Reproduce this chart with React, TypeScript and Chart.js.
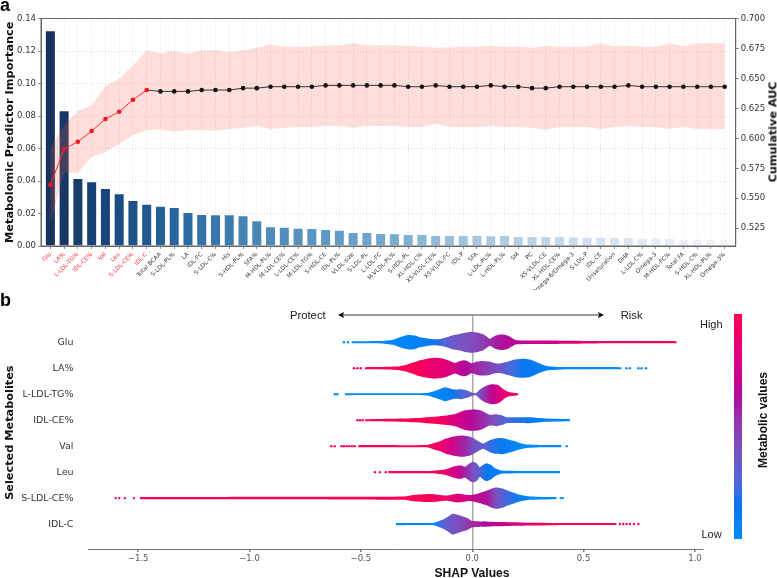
import React, { useEffect, useRef } from "react";
import { Chart, registerables } from "chart.js";

Chart.register(...registerables);

const FONT = "'DejaVu Sans', sans-serif";
const SANS = "'Liberation Sans', Arial, sans-serif";

// ---------- panel a ----------
const metabolites = [
  "Glu", "LA%", "L-LDL-TG%", "IDL-CE%", "Val", "Leu", "S-LDL-CE%", "IDL-C", "Total BCAA", "S-LDL-PL%",
  "LA", "IDL-FC", "S-LDL-C%", "His", "S-HDL-PL%", "SFA%", "M-HDL-PL%", "M-LDL-CE%", "L-LDL-CE%", "M-LDL-TG%",
  "S-HDL-CE", "IDL-PL%", "VLDL-size", "S-LDL-PL", "L-LDL-FC", "M-VLDL-PL%", "S-HDL-PL", "XL-HDL-C%", "XS-VLDL-CE%", "XS-VLDL-FC",
  "IDL-P", "SFA", "L-LDL-PL%", "L-HDL-PL%", "SM", "PC", "XS-VLDL-CE", "XL-HDL-CE%", "Omega-6/Omega-3", "S-LDL-P",
  "IDL-CE", "Unsaturation", "DHA", "L-LDL-C%", "Omega-3", "M-HDL-FC%", "Total FA", "S-HDL-C%", "XL-HDL-PL%", "Omega-3%",
];
const importance = [
  0.1328, 0.0836, 0.0418, 0.0398, 0.0357, 0.0324, 0.0283, 0.026, 0.0248, 0.024,
  0.0209, 0.0197, 0.0195, 0.0195, 0.0189, 0.0158, 0.0121, 0.0119, 0.0113, 0.0111,
  0.0105, 0.01, 0.0086, 0.0086, 0.008, 0.0078, 0.0074, 0.0074, 0.0068, 0.0068,
  0.0068, 0.0068, 0.0066, 0.0068, 0.0062, 0.0062, 0.0062, 0.0062, 0.0059, 0.0057,
  0.0057, 0.0055, 0.0055, 0.0051, 0.0051, 0.0049, 0.0045, 0.0045, 0.0043, 0.0041,
];
const aucMean = [
  0.5611, 0.5911, 0.5972, 0.6061, 0.6161, 0.6222, 0.6322, 0.6403, 0.6392, 0.6392,
  0.6392, 0.6403, 0.6403, 0.6403, 0.6419, 0.6419, 0.6431, 0.6431, 0.6431, 0.6431,
  0.6442, 0.6442, 0.6442, 0.6442, 0.6442, 0.6442, 0.6431, 0.6431, 0.6442, 0.6431,
  0.6431, 0.6431, 0.6442, 0.6431, 0.6431, 0.6419, 0.6419, 0.6431, 0.6431, 0.6431,
  0.6431, 0.6431, 0.6442, 0.6431, 0.6431, 0.6431, 0.6431, 0.6431, 0.6431, 0.6431,
];
const aucUpper = [
  0.5917, 0.6111, 0.6228, 0.6275, 0.6436, 0.6497, 0.6611, 0.6733, 0.6708, 0.6728,
  0.6708, 0.6733, 0.6736, 0.6719, 0.6736, 0.6756, 0.6786, 0.6764, 0.6764, 0.6767,
  0.6775, 0.6775, 0.6794, 0.6775, 0.6775, 0.6775, 0.677, 0.6764, 0.6756, 0.6761,
  0.6764, 0.6764, 0.6772, 0.6764, 0.6764, 0.6756, 0.6772, 0.6764, 0.6764, 0.6764,
  0.6794, 0.6767, 0.6772, 0.6764, 0.6764, 0.6794, 0.6767, 0.6794, 0.6794, 0.6794,
];
const aucLower = [
  0.5292, 0.5714, 0.5714, 0.5847, 0.5886, 0.5953, 0.6028, 0.6067, 0.6075, 0.6056,
  0.6069, 0.6067, 0.6064, 0.6078, 0.6089, 0.6103, 0.6078, 0.6089, 0.6094, 0.6094,
  0.6103, 0.6103, 0.6089, 0.6103, 0.6103, 0.6103, 0.6094, 0.6094, 0.6122, 0.6094,
  0.6094, 0.6094, 0.6103, 0.6094, 0.6094, 0.6089, 0.6072, 0.6094, 0.6094, 0.6094,
  0.6078, 0.6094, 0.6103, 0.6094, 0.6094, 0.6078, 0.6094, 0.6078, 0.6078, 0.6078,
];
const selectedCount = 8;

const barRamp = ["#16325f", "#1a4a80", "#2b6aa2", "#4a86b5", "#5c97c4", "#74a9cf", "#9cc2dc", "#b7d0e5", "#d1dfef", "#e3ebf6", "#f1f5fb"];

// ---------- panel b ----------
const rowNames = ["Glu", "LA%", "L-LDL-TG%", "IDL-CE%", "Val", "Leu", "S-LDL-CE%", "IDL-C"];

const gluX = [-0.542, -0.415, -0.355, -0.322, -0.287, -0.257, -0.235, -0.175, -0.138, -0.115, -0.088, -0.063, -0.033, -0.003, 0.027, 0.049, 0.067, 0.079, 0.105, 0.132, 0.159, 0.177, 0.199, 0.334, 0.558, 0.918];
const gluHalf = [0.04, 0.045, 0.1, 0.205, 0.28, 0.256, 0.19, 0.115, 0.14, 0.19, 0.27, 0.31, 0.37, 0.4, 0.37, 0.31, 0.205, 0.13, 0.256, 0.295, 0.256, 0.167, 0.077, 0.064, 0.045, 0.04];
const gluToneX = [-0.542, -0.415, -0.355, -0.287, -0.235, -0.175, -0.115, -0.063, -0.003, 0.049, 0.079, 0.132, 0.177, 0.199, 0.334, 0.558, 0.918];
const gluTone = [0, 0, 0.02, 0.05, 0.08, 0.15, 0.3, 0.38, 0.42, 0.48, 0.55, 0.62, 0.66, 0.68, 0.76, 0.9, 1];
const gluOut = [-0.576, -0.558];

const laX = [-0.482, -0.34, -0.303, -0.265, -0.235, -0.202, -0.168, -0.13, -0.108, -0.078, -0.058, -0.04, -0.022, -0.003, 0.022, 0.049, 0.076, 0.102, 0.124, 0.147, 0.169, 0.199, 0.229, 0.259, 0.289, 0.319, 0.341, 0.409, 0.671];
const laHalf = [0.04, 0.064, 0.115, 0.218, 0.31, 0.37, 0.4, 0.37, 0.31, 0.205, 0.27, 0.31, 0.28, 0.19, 0.256, 0.28, 0.256, 0.19, 0.18, 0.23, 0.28, 0.346, 0.37, 0.333, 0.23, 0.128, 0.077, 0.045, 0.04];
const laToneX = [-0.482, -0.34, -0.28, -0.235, -0.168, -0.108, -0.078, -0.04, -0.003, 0.049, 0.102, 0.169, 0.229, 0.289, 0.341, 0.409, 0.671];
const laTone = [1, 1, 1, 0.95, 0.88, 0.82, 0.75, 0.66, 0.6, 0.5, 0.42, 0.25, 0.15, 0.1, 0.05, 0.02, 0];
const laOut = [-0.531, -0.516, -0.501, 0.693, 0.708, 0.746, 0.76, 0.78];

const ltgX = [-0.572, -0.205, -0.16, -0.123, -0.103, -0.085, -0.048, -0.022, -0.003, 0.016, 0.034, 0.057, 0.087, 0.109, 0.124, 0.142, 0.162, 0.207];
const ltgHalf = [0.04, 0.045, 0.154, 0.27, 0.23, 0.18, 0.19, 0.14, 0.064, 0.04, 0.18, 0.31, 0.385, 0.37, 0.31, 0.18, 0.09, 0.04];
const ltgToneX = [-0.572, -0.205, -0.16, -0.123, -0.085, -0.048, -0.003, 0.016, 0.034, 0.087, 0.124, 0.162, 0.207];
const ltgTone = [0, 0, 0.02, 0.05, 0.15, 0.25, 0.33, 0.36, 0.4, 0.68, 0.82, 0.88, 0.9];
const ltgOut = [-0.617, -0.606];

const idlceX = [-0.482, -0.265, -0.145, -0.108, -0.07, -0.037, -0.003, 0.027, 0.049, 0.079, 0.109, 0.132, 0.154, 0.259, 0.334, 0.439];
const idlceHalf = [0.04, 0.077, 0.154, 0.19, 0.256, 0.37, 0.41, 0.4, 0.333, 0.205, 0.23, 0.19, 0.115, 0.115, 0.064, 0.04];
const idlceToneX = [-0.482, -0.265, -0.145, -0.07, -0.003, 0.049, 0.079, 0.109, 0.154, 0.259, 0.334, 0.439];
const idlceTone = [1, 1, 0.95, 0.78, 0.65, 0.55, 0.45, 0.38, 0.25, 0.12, 0.06, 0];
const idlceOut = [-0.516, -0.504, -0.492];

const valX = [-0.512, -0.205, -0.175, -0.145, -0.123, -0.1, -0.063, -0.04, -0.013, 0.004, 0.027, 0.049, 0.067, 0.079, 0.105, 0.132, 0.157, 0.184, 0.207, 0.237, 0.319, 0.401];
const valHalf = [0.04, 0.045, 0.115, 0.19, 0.28, 0.333, 0.4, 0.41, 0.37, 0.31, 0.19, 0.1, 0.18, 0.23, 0.295, 0.31, 0.27, 0.205, 0.14, 0.077, 0.045, 0.04];
const valToneX = [-0.512, -0.205, -0.145, -0.1, -0.04, 0.004, 0.049, 0.079, 0.132, 0.184, 0.237, 0.319, 0.401];
const valTone = [1, 1, 0.9, 0.78, 0.58, 0.42, 0.3, 0.22, 0.12, 0.06, 0, 0, 0];
const valOut = [-0.633, -0.618, -0.587, -0.576, -0.564, -0.552, -0.54, -0.528, 0.424];

const leuX = [-0.377, -0.19, -0.123, -0.093, -0.063, -0.048, -0.033, -0.013, 0.004, 0.021, 0.034, 0.049, 0.064, 0.084, 0.102, 0.132, 0.259, 0.394];
const leuHalf = [0.04, 0.045, 0.1, 0.19, 0.256, 0.256, 0.205, 0.333, 0.4, 0.333, 0.19, 0.28, 0.346, 0.28, 0.154, 0.064, 0.045, 0.04];
const leuToneX = [-0.377, -0.19, -0.123, -0.063, -0.033, 0.004, 0.034, 0.064, 0.102, 0.132, 0.259, 0.394];
const leuTone = [1, 1, 0.9, 0.72, 0.58, 0.4, 0.28, 0.15, 0.08, 0.05, 0, 0];
const leuOut = [-0.437, -0.415, -0.388];

const sldlX = [-1.492, -1.1, -0.639, -0.302, -0.272, -0.25, -0.19, -0.153, -0.115, -0.063, -0.01, 0.027, 0.064, 0.087, 0.109, 0.136, 0.162, 0.214, 0.259, 0.379];
const sldlHalf = [0.04, 0.045, 0.05, 0.064, 0.11, 0.128, 0.154, 0.128, 0.1, 0.167, 0.115, 0.18, 0.28, 0.37, 0.41, 0.37, 0.28, 0.128, 0.064, 0.04];
const sldlToneX = [-1.492, -1.1, -0.639, -0.302, -0.25, -0.19, -0.115, -0.063, -0.01, 0.064, 0.109, 0.162, 0.214, 0.259, 0.379];
const sldlTone = [1, 1, 1, 1, 0.98, 0.95, 0.9, 0.82, 0.76, 0.62, 0.4, 0.22, 0.1, 0, 0];
const sldlOut = [-1.601, -1.585, -1.56, -1.519, 0.397, 0.406];

const idlcX = [-0.343, -0.175, -0.138, -0.115, -0.088, -0.063, -0.04, -0.022, -0.003, 0.079, 0.214, 0.379, 0.648];
const idlcHalf = [0.045, 0.045, 0.154, 0.256, 0.4, 0.346, 0.28, 0.23, 0.128, 0.09, 0.064, 0.045, 0.04];
const idlcToneX = [-0.343, -0.175, -0.138, -0.088, -0.04, -0.003, 0.079, 0.214, 0.379, 0.648];
const idlcTone = [0, 0, 0.25, 0.38, 0.45, 0.55, 0.68, 0.82, 1, 1];
const idlcOut = [0.663, 0.678, 0.693, 0.708, 0.726, 0.746];

const swarmRows = [
  { x: gluX, half: gluHalf, toneX: gluToneX, tone: gluTone, out: gluOut },
  { x: laX, half: laHalf, toneX: laToneX, tone: laTone, out: laOut },
  { x: ltgX, half: ltgHalf, toneX: ltgToneX, tone: ltgTone, out: ltgOut },
  { x: idlceX, half: idlceHalf, toneX: idlceToneX, tone: idlceTone, out: idlceOut },
  { x: valX, half: valHalf, toneX: valToneX, tone: valTone, out: valOut },
  { x: leuX, half: leuHalf, toneX: leuToneX, tone: leuTone, out: leuOut },
  { x: sldlX, half: sldlHalf, toneX: sldlToneX, tone: sldlTone, out: sldlOut },
  { x: idlcX, half: idlcHalf, toneX: idlcToneX, tone: idlcTone, out: idlcOut },
];

// [row, SHAP value, offset inside the row, tone]
const specks: number[][] = [
  [7, -0.048, -0.167, 0], [7, -0.013, -0.077, 0], [7, 0.027, 0, 0], [7, 0.052, -0.077, 0], [7, 0.072, 0.05, 0],
  [7, 0.102, 0, 0], [7, 0.132, -0.04, 0], [7, 0.154, 0.026, 0], [7, 0.177, -0.013, 0], [7, 0.199, 0, 0],
  [6, 0.064, 0.013, 0], [6, 0.102, 0.05, 0], [6, 0.139, -0.14, 0], [6, 0.162, 0.115, 0], [6, 0.177, -0.04, 0],
  [6, 0.192, 0.09, 0], [6, 0.117, 0.18, 0], [6, 0.094, -0.2, 0],
  [2, 0.094, -0.22, 1], [2, 0.109, -0.03, 1], [2, 0.117, 0.167, 1], [2, 0.087, 0.1, 1], [2, 0.102, 0.23, 1], [2, 0.132, -0.09, 1],
  [1, 0.139, -0.06, 0], [1, 0.177, 0.13, 0], [1, 0.199, -0.19, 0], [1, 0.222, 0.06, 0], [1, 0.244, -0.06, 0], [1, 0.259, 0.19, 0],
];

const colormap: [number, string][] = [
  [0, "#008bfb"], [0.15, "#0a76ee"], [0.25, "#4d68dc"], [0.4, "#7a52c0"], [0.55, "#9c2ca8"], [0.65, "#b4089a"], [0.8, "#dc0082"], [1, "#ff0051"],
];

const hexToRgb = (h: string) => [1, 3, 5].map((i) => parseInt(h.slice(i, i + 2), 16));
const mix = (a: string, b: string, f: number) => {
  const p = hexToRgb(a);
  const q = hexToRgb(b);
  return `rgb(${p.map((v, i) => Math.round(v + (q[i] - v) * f)).join(",")})`;
};
const toneColor = (t: number) => {
  for (let i = 1; i < colormap.length; i++) {
    if (t <= colormap[i][0]) {
      const [t0, c0] = colormap[i - 1];
      const [t1, c1] = colormap[i];
      return mix(c0, c1, (t - t0) / (t1 - t0));
    }
  }
  return colormap[colormap.length - 1][1];
};
const rampColor = (f: number) => {
  const s = f * (barRamp.length - 1);
  const i = Math.min(Math.floor(s), barRamp.length - 2);
  return mix(barRamp[i], barRamp[i + 1], s - i);
};
const toneAt = (row: { toneX: number[]; tone: number[] }, x: number) => {
  if (x <= row.toneX[0]) return row.tone[0];
  return row.tone[row.tone.length - 1];
};

const frame = {
  id: "frame",
  afterDatasetsDraw(chart: any) {
    const { ctx, chartArea: a } = chart;
    ctx.save();
    ctx.strokeStyle = "#666";
    ctx.lineWidth = 1;
    ctx.strokeRect(a.left, a.top, a.right - a.left, a.bottom - a.top);
    ctx.restore();
  },
};

const swarmFill = (row: { toneX: number[]; tone: number[] }) => (ctx: any) => {
  const { chart } = ctx;
  const xs = chart.scales?.x;
  if (!xs || !chart.chartArea) return "#888";
  const first = row.toneX[0];
  const last = row.toneX[row.toneX.length - 1];
  const g = chart.ctx.createLinearGradient(xs.getPixelForValue(first), 0, xs.getPixelForValue(last), 0);
  row.toneX.forEach((x, i) => g.addColorStop((x - first) / (last - first), toneColor(row.tone[i])));
  return g;
};

export default function App() {
  const topRef = useRef<HTMLCanvasElement>(null);
  const bottomRef = useRef<HTMLCanvasElement>(null);

  useEffect(() => {
    const pts = (ys: number[]) => ys.map((y, x) => ({ x, y }));
    const top = new Chart(topRef.current!, {
      type: "bar",
      data: {
        datasets: [
          {
            type: "line",
            label: "Cumulative AUC",
            data: pts(aucMean),
            yAxisID: "y1",
            order: 1,
            borderWidth: 1,
            tension: 0,
            borderColor: "#333",
            segment: { borderColor: (c: any) => (c.p1DataIndex < selectedCount ? "#ff2a2a" : "#333") },
            pointRadius: 2.3,
            pointBorderWidth: 0,
            pointBackgroundColor: aucMean.map((_, i) => (i < selectedCount ? "#f5141e" : "#151515")),
          },
          {
            type: "line",
            label: "Upper",
            data: pts(aucUpper),
            yAxisID: "y1",
            order: 2,
            borderWidth: 0,
            pointRadius: 0,
            tension: 0,
            fill: "+1",
            backgroundColor: "rgba(248,90,70,0.2)",
          },
          {
            type: "line",
            label: "Lower",
            data: pts(aucLower),
            yAxisID: "y1",
            order: 2,
            borderWidth: 0,
            pointRadius: 0,
            tension: 0,
            fill: false,
          },
          {
            type: "bar",
            label: "Importance",
            data: pts(importance),
            yAxisID: "y",
            order: 3,
            barPercentage: 0.8,
            categoryPercentage: 1,
            backgroundColor: importance.map((_, i) => rampColor(i / (importance.length - 1))),
            borderColor: "rgba(255,255,255,0.22)",
            borderWidth: 1,
          },
        ],
      } as any,
      options: {
        animation: false,
        responsive: false,
        devicePixelRatio: 1,
        layout: { padding: { top: 18.5, right: 0, left: 0, bottom: 0 } },
        plugins: { legend: { display: false }, tooltip: { enabled: false } },
        scales: {
          x: {
            type: "linear",
            offset: false,
            min: -0.68,
            max: 49.8,
            afterFit: (s: any) => { s.height = 44; },
            grid: { offset: false, color: "rgba(0,0,0,0.16)", tickColor: "#777", tickLength: 3, lineWidth: 0.8 },
            border: { color: "#666", dash: [1, 2] },
            ticks: {
              stepSize: 1,
              includeBounds: false,
              autoSkip: false,
              maxRotation: 45,
              minRotation: 45,
              padding: 2,
              font: { family: FONT, size: 5.9 },
              color: (c: any) => (c.tick && c.tick.value < selectedCount ? "#f5323c" : "#333"),
              callback: (v: any) => metabolites[v] ?? "",
            },
          },
          y: {
            position: "left",
            min: 0,
            max: 0.14,
            afterFit: (s: any) => { s.width = 41; },
            title: { display: true, text: "Metabolomic Predictor Importance", font: { family: FONT, size: 11.3, weight: "bold" }, color: "#111", padding: { top: 3, bottom: 0 } },
            grid: { color: "rgba(0,0,0,0.16)", tickColor: "#777", tickLength: 3, lineWidth: 0.8 },
            border: { color: "#666", dash: [1, 2] },
            ticks: { stepSize: 0.02, includeBounds: false, padding: 2, font: { family: FONT, size: 8.5 }, color: "#333", callback: (v: any) => Number(v).toFixed(2) },
          },
          y1: {
            position: "right",
            min: 0.5102,
            max: 0.7,
            afterFit: (s: any) => { s.width = 41.3; },
            grid: { drawOnChartArea: false, tickColor: "#777", tickLength: 3 },
            border: { color: "#666" },
            ticks: { stepSize: 0.025, includeBounds: false, padding: 2, font: { family: FONT, size: 8.5 }, color: "#333", callback: (v: any) => Number(v).toFixed(3) },
          },
        },
      } as any,
      plugins: [frame],
    });

    const swarmSets: any[] = [];
    swarmRows.forEach((row, r) => {
      swarmSets.push({
        label: rowNames[r] + " upper",
        data: row.x.map((x, i) => ({ x, y: r - row.half[i] })),
        borderWidth: 0,
        pointRadius: 0,
        tension: 0.2,
        fill: "+1",
        backgroundColor: swarmFill(row),
      });
      swarmSets.push({
        label: rowNames[r] + " lower",
        data: row.x.map((x, i) => ({ x, y: r + row.half[i] })),
        borderWidth: 0,
        pointRadius: 0,
        tension: 0.2,
        fill: false,
      });
      swarmSets.push({
        label: rowNames[r] + " sparse",
        data: row.out.map((x) => ({ x, y: r })),
        showLine: false,
        pointRadius: 1.2,
        pointBorderWidth: 0,
        pointBackgroundColor: row.out.map((x) => toneColor(toneAt(row, x))),
      });
    });
    swarmSets.push({
      label: "Specks",
      data: specks.map(([r, x, dy]) => ({ x, y: r + dy })),
      showLine: false,
      pointRadius: 1.1,
      pointBorderWidth: 0,
      pointBackgroundColor: specks.map((s) => toneColor(s[3])),
    });

    const bottom = new Chart(bottomRef.current!, {
      type: "line",
      data: { datasets: swarmSets },
      options: {
        animation: false,
        responsive: false,
        devicePixelRatio: 1,
        layout: { padding: { top: 26.3, right: 74, left: 0, bottom: 0 } },
        plugins: { legend: { display: false }, tooltip: { enabled: false } },
        scales: {
          x: {
            type: "linear",
            min: -1.723,
            max: 1.036,
            afterFit: (s: any) => { s.height = 29; },
            grid: {
              color: (c: any) => (c.tick && Math.abs(c.tick.value) < 1e-9 ? "#aaa" : "transparent"),
              lineWidth: 1.5,
              tickColor: "#777",
              tickLength: 3,
            },
            border: { color: "#777" },
            ticks: {
              stepSize: 0.5,
              includeBounds: false,
              padding: 2,
              font: { family: FONT, size: 8.5 },
              color: "#555",
              callback: (v: any) => (Math.abs(v) < 1e-9 ? "0.0" : Number(v).toFixed(1).replace("-", "\u2212")),
            },
          },
          y: {
            type: "linear",
            reverse: true,
            min: -1,
            max: 7.96,
            afterFit: (s: any) => { s.width = 88.5; },
            title: { display: true, text: "Selected Metabolites", font: { family: FONT, size: 11.3, weight: "bold" }, color: "#111", padding: { top: 3, bottom: 0 } },
            grid: { color: (c: any) => (c.tick && c.tick.value >= 0 ? "rgba(0,0,0,0.05)" : "transparent"), drawTicks: false, lineWidth: 1 },
            border: { display: false, dash: [1, 2] },
            ticks: {
              stepSize: 1,
              includeBounds: false,
              padding: 15,
              font: { family: FONT, size: 9.5 },
              color: "#333",
              callback: (v: any) => rowNames[v] ?? "",
            },
          },
        },
      } as any,
    });

    return () => {
      top.destroy();
      bottom.destroy();
    };
  }, []);

  const text = (style: React.CSSProperties): React.CSSProperties => ({
    position: "absolute",
    fontFamily: SANS,
    color: "#222",
    whiteSpace: "nowrap",
    lineHeight: 1,
    ...style,
  });
  const centered = (cx: number, cy: number, rotate = 0) => ({
    left: cx,
    top: cy,
    transform: `translate(-50%,-50%)${rotate ? ` rotate(${rotate}deg)` : ""}`,
  });
  const barGradient = [...colormap].map(([t, c]) => `${c} ${t * 100}%`).join(",");

  return (
    <div style={{ position: "absolute", left: 0, top: 0, width: 777, height: 578, background: "#fff", overflow: "hidden" }}>
      <canvas ref={topRef} width={777} height={290} style={{ position: "absolute", left: 0, top: 0, display: "block" }} />
      <canvas ref={bottomRef} width={777} height={288} style={{ position: "absolute", left: 0, top: 290, display: "block" }} />

      <div style={text({ left: 0, top: -4, fontSize: 18, fontWeight: 700, color: "#000" })}>a</div>
      <div style={text({ left: 0, top: 291, fontSize: 18, fontWeight: 700, color: "#000" })}>b</div>
      <div style={text({ ...centered(773, 132, -90), fontFamily: FONT, fontSize: 11.2, fontWeight: 700, color: "#111" })}>Cumulative AUC</div>

      <div style={text({ ...centered(307.8, 316), fontSize: 11.3 })}>Protect</div>
      <div style={text({ ...centered(631.7, 316), fontSize: 11.3 })}>Risk</div>
      <svg width={777} height={20} style={{ position: "absolute", left: 0, top: 305 }}>
        <line x1={342} y1={10} x2={600} y2={10} stroke="#222" strokeWidth={0.9} />
        <polygon points="338,10 344,7 343,10 344,13" fill="#111" />
        <polygon points="604,10 598,7 599,10 598,13" fill="#111" />
      </svg>

      <div style={text({ ...centered(711.3, 324), fontSize: 11 })}>High</div>
      <div style={text({ ...centered(711.5, 534), fontSize: 11 })}>Low</div>
      <div style={{ position: "absolute", left: 734.3, top: 314, width: 7.7, height: 225.3, background: `linear-gradient(to top,${barGradient})` }} />
      <div style={text({ ...centered(762.7, 420, -90), fontSize: 12, fontWeight: 700, color: "#111" })}>Metabolic values</div>
      <div style={text({ ...centered(472, 572.7), fontSize: 12.1, fontWeight: 700, color: "#111" })}>SHAP Values</div>
    </div>
  );
}
